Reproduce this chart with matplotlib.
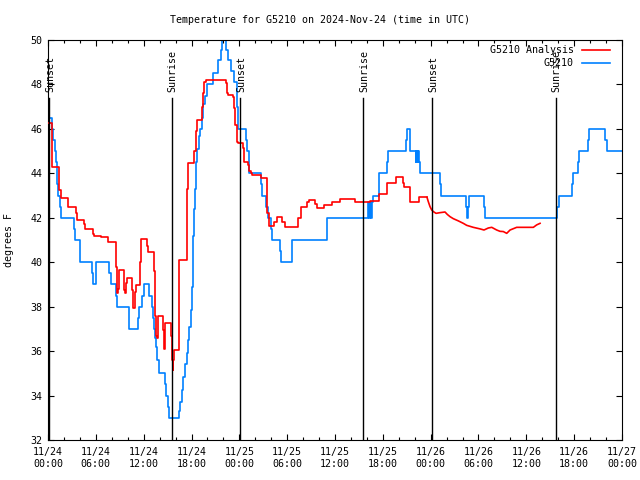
import matplotlib
matplotlib.use("Agg")
import matplotlib.pyplot as plt
from matplotlib.ticker import MultipleLocator, FixedLocator

# ---- data (hours since 2024-11-24 00:00 UTC, degrees F) ----
obs_hours = [0.00, 0.09, 0.50, 0.66, 0.88, 1.04, 1.17, 1.29, 1.47, 1.59, 3.26, 3.39, 4.01,
             5.56, 5.68, 6.06, 7.69, 7.87, 8.53, 8.62, 10.10, 10.20, 11.25, 11.41, 11.85,
             12.04, 12.71, 13.08, 13.21, 13.33, 13.46, 13.58, 13.71, 13.89, 14.64, 14.80,
             15.02, 15.22, 16.43, 16.60, 16.81, 16.97, 17.22, 17.40, 17.56, 17.72, 17.90,
             18.06, 18.13, 18.19, 18.28, 18.38, 18.53, 18.73, 18.94, 19.07, 19.28, 19.48,
             19.69, 19.91, 20.66, 21.36, 21.70, 21.86, 22.39, 22.64, 22.96, 23.33, 23.65,
             23.87, 24.84, 24.96, 25.25, 26.76, 26.88, 27.37, 27.55, 27.92, 28.09, 29.10,
             29.19, 30.57, 30.64, 34.96, 40.18, 40.26, 40.35, 40.52, 40.64, 40.81, 41.56,
             42.49, 42.61, 44.91, 45.00, 45.35, 45.47, 46.10, 46.22, 46.35, 46.45, 46.58,
             46.66, 49.17, 49.30, 52.43, 52.52, 52.68, 52.85, 54.69, 54.84, 63.79, 64.04,
             65.67, 65.82, 66.44, 66.61, 67.74, 67.82, 69.81, 70.12, 72.00]
obs_temps = [47.0, 46.5, 46.0, 45.5, 45.0, 44.5, 43.5, 43.0, 42.5, 42.0, 41.5, 41.0, 40.0,
             39.5, 39.0, 40.0, 39.5, 39.0, 38.5, 38.0, 37.5, 37.0, 37.5, 38.0, 38.5,
             39.0, 38.5, 38.0, 37.5, 37.0, 36.6, 36.2, 35.6, 35.0, 34.5, 34.0,
             33.5, 33.0, 33.3, 33.7, 34.25, 34.85, 35.4, 35.9, 36.5, 37.1, 37.85,
             38.9, 39.8, 41.2, 42.4, 43.3, 44.5, 45.1, 45.7, 46.0, 46.5, 47.1,
             47.5, 48.0, 48.5, 49.1, 49.55, 50.3, 49.55, 49.1, 48.6, 48.1, 47.0,
             46.0, 45.5, 45.0, 44.0, 43.5, 43.0, 42.5, 42.0, 41.5, 41.0, 40.5,
             40.0, 40.5, 41.0, 42.0, 42.7, 42.0, 42.7, 42.0, 42.7, 43.0, 44.0,
             44.5, 45.0, 45.5, 46.0, 45.5, 45.0, 44.5, 45.0, 44.5, 45.0, 44.5,
             44.0, 43.5, 43.0, 42.5, 42.0, 42.5, 43.0, 42.5, 42.0, 42.5, 43.0,
             43.5, 44.0, 44.5, 45.0, 45.5, 46.0, 45.5, 45.0, 45.0]

ana_step_hours = [0.00, 0.44, 0.54, 1.38, 1.59, 2.55, 3.55, 3.68, 4.52, 4.64, 5.61, 5.77,
                  6.61, 7.56, 8.49, 8.62, 8.69, 8.78, 8.91, 9.53, 9.66, 9.75, 9.95, 10.57,
                  10.70, 10.88, 11.00, 11.54, 11.63, 12.46, 12.58, 13.30, 13.42, 13.55,
                  13.64, 13.76, 14.46, 14.59, 14.71, 15.39, 15.52, 15.64, 15.74, 15.84,
                  16.49, 17.47, 17.60, 18.35, 18.53, 18.65, 19.28, 19.48, 19.61, 19.78,
                  22.33, 22.42, 22.62, 23.17, 23.33, 23.50, 23.67, 23.87, 24.42, 24.59,
                  25.05, 25.25, 25.46, 25.59, 26.66, 27.41, 27.51, 27.66, 28.41, 28.69,
                  29.41, 29.67, 31.42, 31.70, 32.49, 32.70, 33.49, 33.78, 34.56, 35.62,
                  36.63, 38.57, 40.14, 40.39, 41.56, 42.56, 43.62, 44.53, 44.69, 45.47,
                  46.54, 47.54]
ana_step_temps = [46.25, 45.3, 44.3, 43.25, 42.9, 42.5, 42.2, 41.9, 41.7, 41.5, 41.25, 41.2,
                  41.15, 40.9, 39.8, 38.8, 38.6, 38.8, 39.65, 38.75, 38.6, 39.05, 39.3, 38.75,
                  37.93, 38.68, 38.98, 40.0, 41.03, 40.75, 40.45, 39.6, 37.6, 36.7,
                  36.6, 37.6, 36.95, 36.1, 37.25, 36.7, 35.6, 35.15, 35.6, 36.05,
                  40.1, 43.3, 44.45, 45.0, 45.9, 46.4, 47.0, 47.6, 48.13, 48.2,
                  48.05, 47.6, 47.53, 47.45, 46.93, 46.18, 45.43, 45.37, 45.13, 44.5,
                  44.38, 44.1, 44.0, 43.93, 43.78, 43.25, 42.2, 41.63, 41.83, 42.02,
                  41.83, 41.6, 41.97, 42.47, 42.69, 42.8, 42.62, 42.42, 42.58, 42.69,
                  42.84, 42.73, 42.69, 42.77, 43.07, 43.58, 43.82, 43.55, 43.37, 42.71,
                  42.92, 42.92]
ana_line_hours = [47.54, 47.70, 47.92, 48.13, 48.33, 48.67, 49.17, 49.80, 50.09, 50.43, 50.84,
                  51.47, 52.09, 52.52, 53.35, 54.19, 54.69, 55.23, 55.66, 56.28, 56.70,
                  57.11, 57.54, 57.96, 58.79, 60.88, 61.30, 61.72]
ana_line_temps = [42.92, 42.73, 42.5, 42.35, 42.28, 42.2, 42.23, 42.26, 42.15, 42.05, 41.96,
                  41.86, 41.75, 41.66, 41.57, 41.5, 41.45, 41.54, 41.57, 41.45, 41.39,
                  41.38, 41.3, 41.45, 41.57, 41.57, 41.68, 41.75]

sun_hours = [0.16, 15.52, 24.08, 39.55, 48.21, 63.68]
sun_labels = ["Sunset", "Sunrise", "Sunset", "Sunrise", "Sunset", "Sunrise"]

xtick_hours = [0, 6, 12, 18, 24, 30, 36, 42, 48, 54, 60, 66, 72]
xtick_labels = ["11/24\n00:00", "11/24\n06:00", "11/24\n12:00", "11/24\n18:00",
                "11/25\n00:00", "11/25\n06:00", "11/25\n12:00", "11/25\n18:00",
                "11/26\n00:00", "11/26\n06:00", "11/26\n12:00", "11/26\n18:00",
                "11/27\n00:00"]
yticks = [32, 34, 36, 38, 40, 42, 44, 46, 48, 50]

title = "Temperature for G5210 on 2024-Nov-24 (time in UTC)"
ana_name = "G5210 Analysis"
obs_name = "G5210"

# ---- style ----
FONT = "DejaVu Sans Mono"
FS = 7.2
RED = "#ff0000"
BLUE = "#0080ff"

fig = plt.figure(figsize=(6.4, 4.8), dpi=100)
ax = fig.add_axes([48 / 640, 40 / 480, 574 / 640, 400 / 480])

ax.plot(obs_hours, obs_temps, drawstyle="steps-post", color=BLUE, lw=1.2, zorder=2)
ax.plot(ana_step_hours, ana_step_temps, drawstyle="steps-post", color=RED, lw=1.2, zorder=3)
ax.plot(ana_line_hours, ana_line_temps, color=RED, lw=1.2, zorder=3)

for h, lab in zip(sun_hours, sun_labels):
    ax.plot([h, h], [32, 47.39], color="black", lw=1.0, zorder=4)
    ax.text(h + 0.12, 47.66, lab, rotation=90, ha="center", va="bottom",
            fontsize=FS, family=FONT, zorder=5)

ax.set_xlim(0, 72)
ax.set_ylim(32, 50)
ax.xaxis.set_major_locator(FixedLocator(xtick_hours))
ax.xaxis.set_minor_locator(MultipleLocator(2))
ax.set_xticklabels(xtick_labels)
ax.set_yticks(yticks)
ax.set_yticklabels([str(v) for v in yticks])
ax.tick_params(axis="both", which="both", direction="in", top=True, right=True,
               labelsize=FS, width=0.8)
ax.tick_params(axis="both", which="major", length=4.5)
ax.tick_params(axis="both", which="minor", length=2.5)
ax.tick_params(axis="x", pad=5)
ax.tick_params(axis="y", pad=4)
for lbl in ax.get_xticklabels() + ax.get_yticklabels():
    lbl.set_family(FONT)
for s in ax.spines.values():
    s.set_linewidth(0.8)

ax.set_ylabel("degrees F", fontsize=FS, family=FONT, labelpad=12)
fig.text(0.5, 1 - 20 / 480, title, ha="center", va="center", fontsize=FS, family=FONT)

# legend (gnuplot style: text right-aligned, sample line to the right)
legend_rows = [(ana_name, RED), (obs_name, BLUE)]
for i, (name, col) in enumerate(legend_rows):
    ypx = 50 + i * 13
    yf = 1 - ypx / 480
    fig.text(574 / 640, yf, name, ha="right", va="center", fontsize=FS, family=FONT)
    fig.add_artist(plt.Line2D([582 / 640, 610 / 640], [yf, yf], color=col, lw=1.2))

fig.savefig("out.png", dpi=100)
